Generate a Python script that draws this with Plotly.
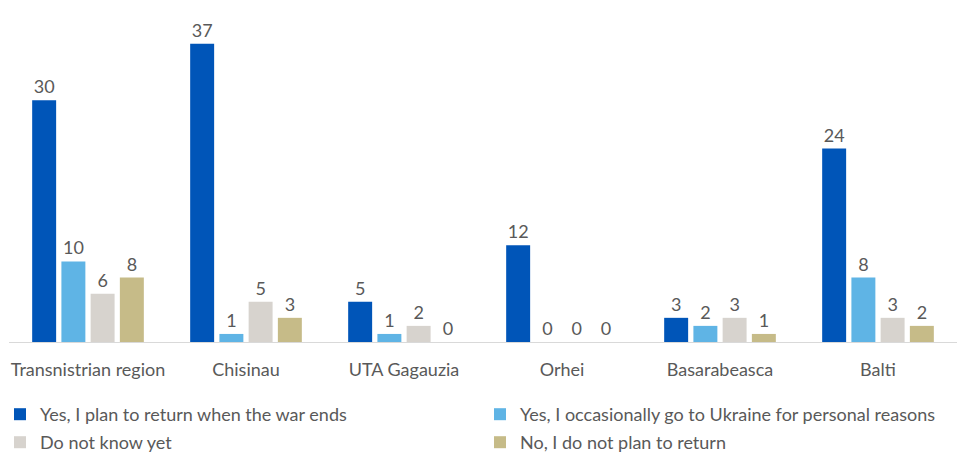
import plotly.graph_objects as go

categories = ["Transnistrian region", "Chisinau", "UTA Gagauzia", "Orhei", "Basarabeasca", "Balti"]
series_names = [
    "Yes, I plan to return when the war ends",
    "Yes, I occasionally go to Ukraine for personal reasons",
    "Do not know yet",
    "No, I do not plan to return",
]
plan_return = [30, 37, 5, 12, 3, 24]
occasionally = [10, 1, 1, 0, 2, 8]
do_not_know = [6, 5, 2, 0, 3, 3]
no_return = [8, 3, 0, 0, 1, 2]
colors = ["#0055B8", "#5FB4E5", "#D7D3CE", "#C6BB88"]

W, H = 961, 452
legend_ids = ["legend", "legend2", "legend3", "legend4"]
legend_pos = [(0, 396), (480, 396), (0, 424), (480, 424)]  # px, top-left of each legend box

font_family = "Lato, Open Sans, sans-serif"
fsize = 18

fig = go.Figure()
for name, vals, col, lid in zip(series_names, [plan_return, occasionally, do_not_know, no_return], colors, legend_ids):
    fig.add_trace(go.Bar(
        x=categories, y=vals, name=name, legend=lid,
        marker=dict(color=col, line=dict(width=0)),
        text=[str(v) for v in vals], textposition="outside",
        textfont=dict(size=fsize, color="#595959"),
        cliponaxis=False,
    ))

legends = {}
for lid, (px, py) in zip(legend_ids, legend_pos):
    legends[lid] = dict(
        xref="container", yref="container",
        x=px / W, y=1 - py / H, xanchor="left", yanchor="top",
        font=dict(size=fsize, color="#595959"),
        itemwidth=30, bgcolor="rgba(0,0,0,0)",
    )

fig.update_layout(
    width=W, height=H,
    margin=dict(l=9, r=4, t=10, b=110, autoexpand=False),
    paper_bgcolor="white", plot_bgcolor="white",
    barmode="group", bargap=0.26, bargroupgap=0.18,
    font=dict(family=font_family, size=fsize, color="#595959"),
    showlegend=True,
    xaxis=dict(showline=True, linecolor="#D9D9D9", linewidth=1, ticks="",
               ticklabelstandoff=11,
               tickfont=dict(size=fsize, color="#595959"), showgrid=False),
    yaxis=dict(visible=False, range=[0, 41.2], showgrid=False, zeroline=False),
    **legends,
)

fig.write_html(
    "out.html",
    config={"displayModeBar": False},
    post_script="document.body.style.margin='0';document.body.style.overflow='hidden';",
)
